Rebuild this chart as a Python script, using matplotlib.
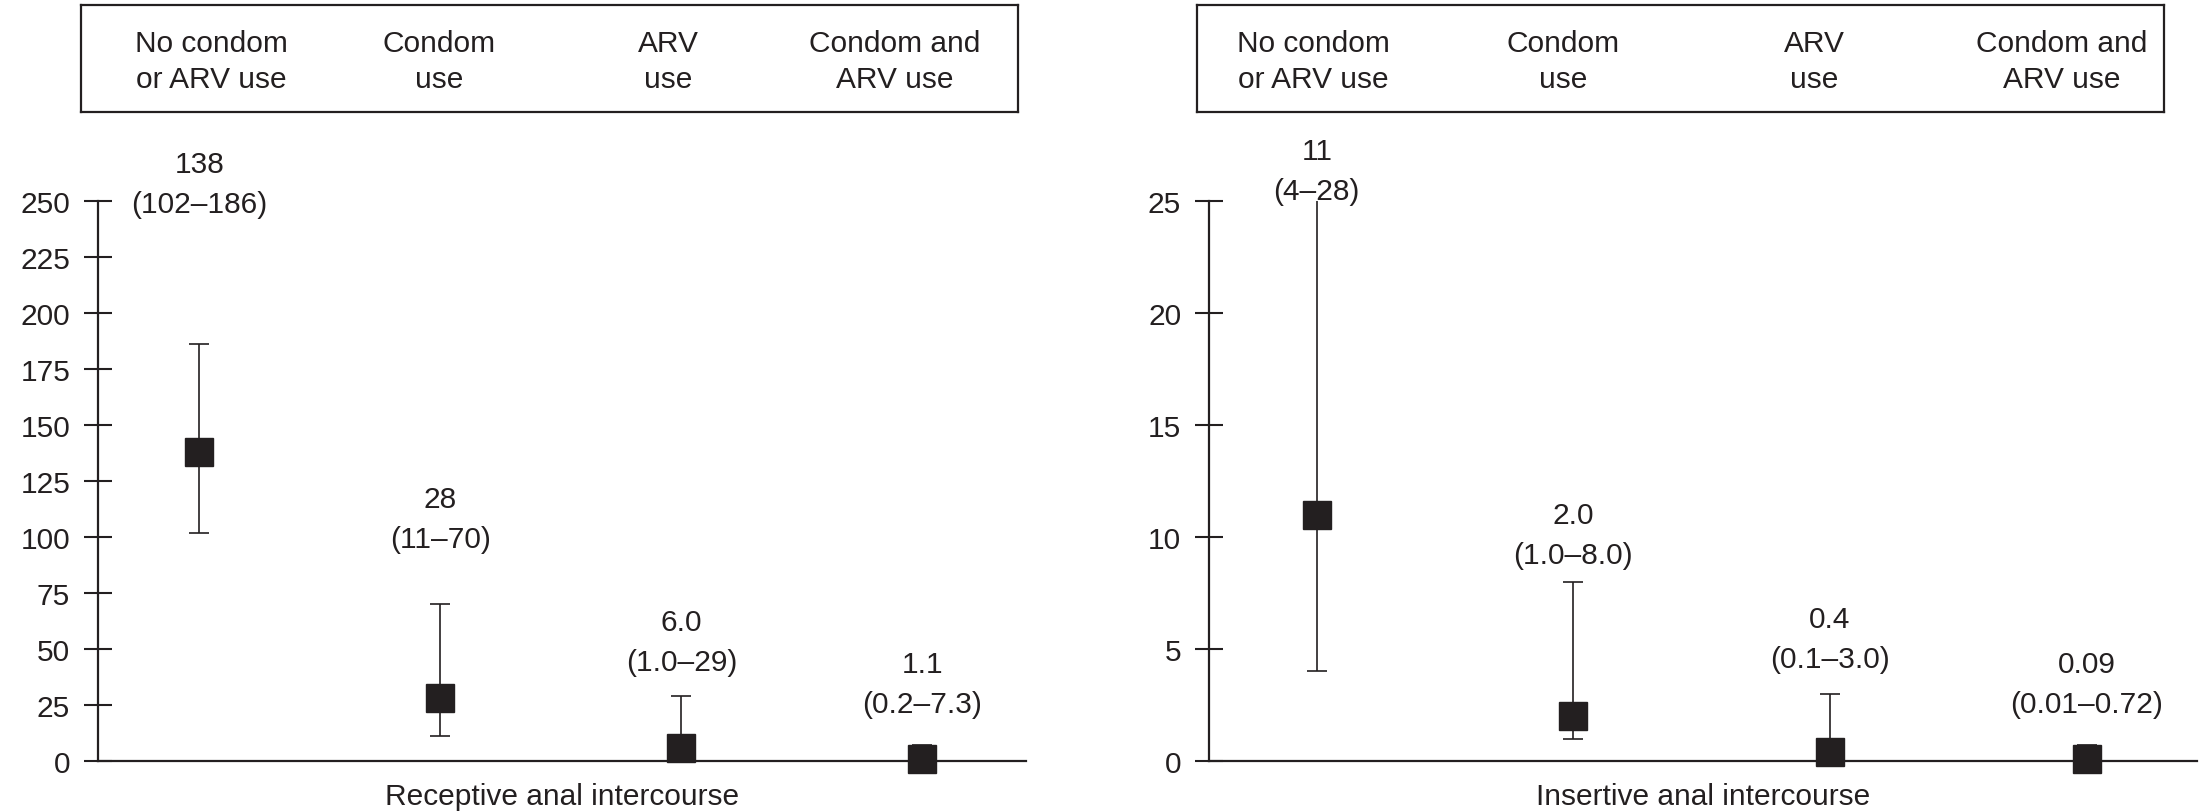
import numpy as np
import matplotlib
matplotlib.use("Agg")
import matplotlib.pyplot as plt

# ---- data -------------------------------------------------------------
categories = ["No condom\nor ARV use", "Condom\nuse", "ARV\nuse", "Condom and\nARV use"]

receptive_est = [138, 28, 6.0, 1.1]
receptive_low = [102, 11, 1.0, 0.2]
receptive_high = [186, 70, 29, 7.3]
receptive_ticks = [0, 25, 50, 75, 100, 125, 150, 175, 200, 225, 250]
receptive_title = "Receptive anal intercourse"

insertive_est = [11, 2.0, 0.4, 0.09]
insertive_low = [4, 1.0, 0.1, 0.01]
insertive_high = [28, 8.0, 3.0, 0.72]
insertive_ticks = [0, 5, 10, 15, 20, 25]
insertive_title = "Insertive anal intercourse"

# ---- styling / layout -------------------------------------------------
INK = "#231f20"
FS = 21.5
plt.rcParams["font.family"] = ["Liberation Sans", "DejaVu Sans"]
plt.rcParams["text.color"] = INK

W, H = 2205, 812
fig = plt.figure(figsize=(W / 100, H / 100), dpi=100)


def fx(px):
    return px / W


def fy(px):
    return 1 - px / H


# axes rectangles in pixels (left, top, right, bottom)
panel_px = [(98, 202, 1026, 762), (1209, 202, 2197, 762)]
box_px = [(81, 6, 1018, 113), (1197, 6, 2164, 113)]
box_text_x = [[0.139, 0.382, 0.627, 0.868], [0.120, 0.379, 0.638, 0.894]]
# baseline of the lower annotation line, in data units
label_base = [[245, 95.5, 40.6, 21.9], [25.1, 8.84, 4.2, 2.19]]
LINE_GAP = 28.8  # points between annotation baselines


def fmt(v):
    return f"{v}"


def add_box(rect, xs):
    l, t, r, b = rect
    bax = fig.add_axes([fx(l), fy(b), fx(r - l), (b - t) / H])
    bax.set_xlim(0, 1)
    bax.set_ylim(0, 1)
    bax.set_xticks([])
    bax.set_yticks([])
    for s in bax.spines.values():
        s.set_linewidth(1.6)
        s.set_color(INK)
    for x, cat in zip(xs, categories):
        top, bottom = cat.split("\n")
        bax.text(x, 0.570, top, ha="center", va="baseline", fontsize=FS)
        bax.text(x, 0.234, bottom, ha="center", va="baseline", fontsize=FS)


def draw_panel(rect, est, low, high, ticks, bases, title):
    l, t, r, b = rect
    ax = fig.add_axes([fx(l), fy(b), fx(r - l), (b - t) / H])
    x = np.arange(len(est))
    yerr = [np.subtract(est, low), np.subtract(high, est)]
    ax.errorbar(x, est, yerr=yerr, fmt="none", ecolor=INK, elinewidth=1.2,
                capsize=7.2, capthick=1.2, zorder=2)
    ax.plot(x, est, ls="none", marker="s", ms=20.5, color=INK,
            clip_on=False, zorder=4)
    ax.set_xlim(-0.42, 3.43)
    ax.set_ylim(ticks[0], ticks[-1])
    ax.set_xticks([])
    ax.set_yticks(ticks)
    ax.tick_params(axis="y", direction="inout", length=19.5, width=1.5,
                   pad=10.3, labelsize=FS, colors=INK)
    for side in ("top", "right"):
        ax.spines[side].set_visible(False)
    for side in ("left", "bottom"):
        ax.spines[side].set_linewidth(1.6)
        ax.spines[side].set_color(INK)
    for xi, e, lo, hi, yb in zip(x, est, low, high, bases):
        ax.annotate(f"({fmt(lo)}\u2013{fmt(hi)})", xy=(xi, yb),
                    ha="center", va="baseline", fontsize=FS,
                    annotation_clip=False)
        ax.annotate(fmt(e), xy=(xi, yb), xytext=(0, LINE_GAP),
                    textcoords="offset points", ha="center", va="baseline",
                    fontsize=FS, annotation_clip=False)
    ax.set_xlabel(title, fontsize=FS, labelpad=15, color=INK)
    return ax


add_box(box_px[0], box_text_x[0])
add_box(box_px[1], box_text_x[1])
draw_panel(panel_px[0], receptive_est, receptive_low, receptive_high,
           receptive_ticks, label_base[0], receptive_title)
draw_panel(panel_px[1], insertive_est, insertive_low, insertive_high,
           insertive_ticks, label_base[1], insertive_title)

fig.savefig("out.png", dpi=100, facecolor="white")
